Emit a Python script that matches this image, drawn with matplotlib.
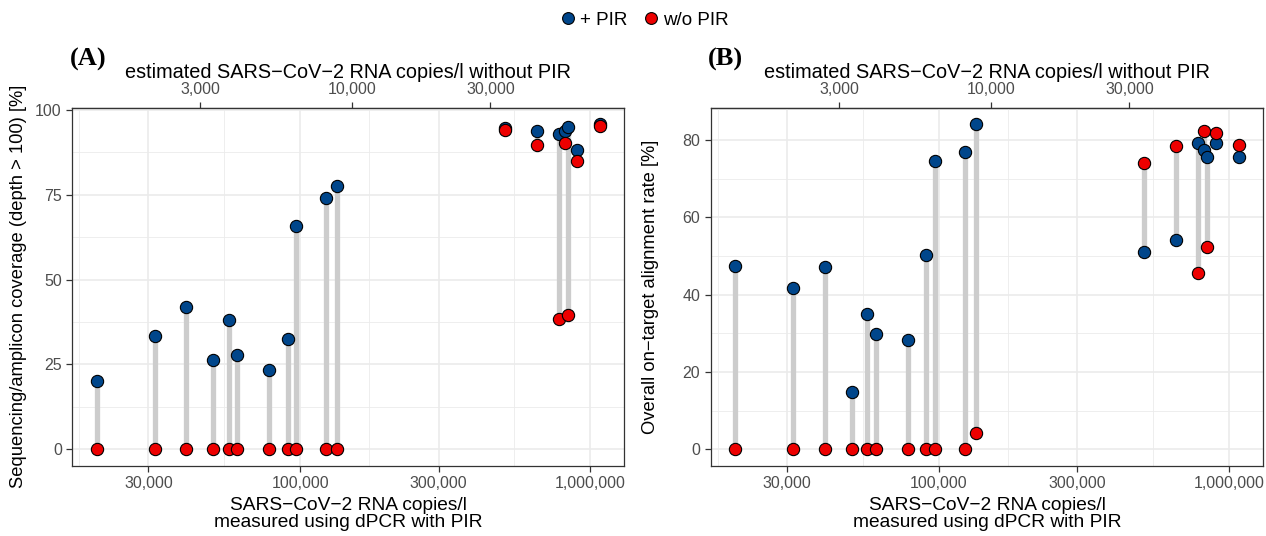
import numpy as np
import matplotlib.pyplot as plt
from matplotlib.lines import Line2D

plt.rcParams['font.family'] = ['Liberation Sans', 'DejaVu Sans']

# dPCR with PIR, copies/l (one value per sample)
copies = [19900, 31600, 40500, 50100, 56800, 60800, 78200, 90700, 96900,
          122700, 134500, 508000, 656000, 782000, 818000, 840000, 903000, 1082000]

# panel A: coverage (depth > 100) [%]
cov_pir = [20.1, 33.3, 41.9, 26.3, 38.2, 27.7, 23.3, 32.5, 65.7,
           74.0, 77.6, 94.6, 93.7, 92.8, 93.6, 94.9, 88.1, 95.8]
cov_wo = [0, 0, 0, 0, 0, 0, 0, 0, 0,
          0, 0, 93.9, 89.6, 38.4, 90.2, 39.6, 84.9, 95.3]

# panel B: on-target alignment rate [%]
aln_pir = [47.3, 41.7, 47.2, 14.9, 34.9, 29.9, 28.4, 50.3, 74.4,
           76.9, 84.1, 51.0, 54.2, 79.1, 77.4, 75.6, 79.2, 75.6]
aln_wo = [0, 0, 0, 0, 0, 0, 0, 0, 0,
          0, 4.2, 74.1, 78.5, 45.7, 82.3, 52.2, 81.7, 78.6]

# factor between measured (with PIR) and estimated (without PIR) copies
pir_factor = 15.1

bottom_ticks = [30000, 100000, 300000, 1000000]
top_ticks = [3000, 10000, 30000]

BLUE = '#00468B'
RED = '#ED0000'
GRID = '#EBEBEB'
DARK = '#333333'
TICKC = '#4D4D4D'


def draw_panel(ax, y_pir, y_wo, yticks, yminor, ylabel, ylab_x, tag):
    x = np.array(copies)
    ax.set_xscale('log')
    ax.vlines(x, y_wo, y_pir, color='#CCCCCC', lw=3.8, zorder=2)
    ax.scatter(x, y_pir, s=78, color=BLUE, edgecolor='black', lw=0.8, zorder=3)
    ax.scatter(x, y_wo, s=78, color=RED, edgecolor='black', lw=0.8, zorder=4)

    ax.set_xticks(bottom_ticks)
    ax.set_xticklabels([f'{t:,}' for t in bottom_ticks])
    xminor = [np.sqrt(a * b) for a, b in zip([10000] + bottom_ticks[:-1], bottom_ticks)]
    ax.set_xticks(xminor, minor=True)
    ax.set_yticks(yticks)
    ax.set_yticks(yminor, minor=True)

    # limits after the ticks, so the ticks don't widen them
    ax.set_xlim(16400, 1310000)
    lo, hi = 0, max(max(y_pir), max(y_wo))
    pad = (hi - lo) * 0.05
    ax.set_ylim(lo - pad, hi + pad)

    ax.tick_params(which='minor', length=0)
    ax.tick_params(which='major', length=4, width=0.9, color=DARK,
                   labelcolor=TICKC, labelsize=11.5)
    ax.grid(which='major', color=GRID, lw=1.2, zorder=0)
    ax.grid(which='minor', color=GRID, lw=0.6, zorder=0)
    ax.set_axisbelow(True)
    for sp in ax.spines.values():
        sp.set_color(DARK)
        sp.set_linewidth(0.9)

    ax.set_xlabel('SARS\u2212CoV\u22122 RNA copies/l\nmeasured using dPCR with PIR',
                  fontsize=13.8, labelpad=4, linespacing=1.0)
    ax.set_ylabel(ylabel, fontsize=13.2)
    ax.yaxis.set_label_coords(ylab_x, 0.5)

    sec = ax.secondary_xaxis('top', functions=(lambda v: v / pir_factor,
                                               lambda v: v * pir_factor))
    sec.set_xticks(top_ticks)
    sec.set_xticklabels([f'{t:,}' for t in top_ticks])
    sec.xaxis.set_minor_locator(plt.NullLocator())
    sec.tick_params(length=4, width=0.9, color=DARK, labelcolor=TICKC, labelsize=11.5)
    sec.spines['top'].set_color(DARK)
    sec.spines['top'].set_linewidth(0.9)
    sec.set_xlabel('estimated SARS\u2212CoV\u22122 RNA copies/l without PIR',
                   fontsize=14.3, labelpad=3)

    ax.text(-0.005, 1.135, tag, transform=ax.transAxes, fontsize=19,
            fontweight='bold', family='Liberation Serif', ha='left', va='center')


fig = plt.figure(figsize=(12.66, 5.36), dpi=100)
axA = fig.add_axes([0.0571, 0.1312, 0.4360, 0.6679])
axB = fig.add_axes([0.5614, 0.1312, 0.4365, 0.6679])

draw_panel(axA, cov_pir, cov_wo, [0, 25, 50, 75, 100], [12.5, 37.5, 62.5, 87.5],
           'Sequencing/amplicon coverage (depth > 100) [%]', -0.082, '(A)')
draw_panel(axB, aln_pir, aln_wo, [0, 20, 40, 60, 80], [10, 30, 50, 70],
           'Overall on\u2212target alignment rate [%]', -0.094, '(B)')

handles = [Line2D([], [], ls='none', marker='o', ms=8.5, mfc=BLUE, mec='black', mew=0.8),
           Line2D([], [], ls='none', marker='o', ms=8.5, mfc=RED, mec='black', mew=0.8)]
fig.legend(handles, ['+ PIR', 'w/o PIR'], loc='center', bbox_to_anchor=(0.509, 0.962),
           ncol=2, frameon=False, fontsize=13.5, handlelength=0.9,
           handletextpad=0.2, columnspacing=0.8)

fig.savefig('out.png', dpi=100)
